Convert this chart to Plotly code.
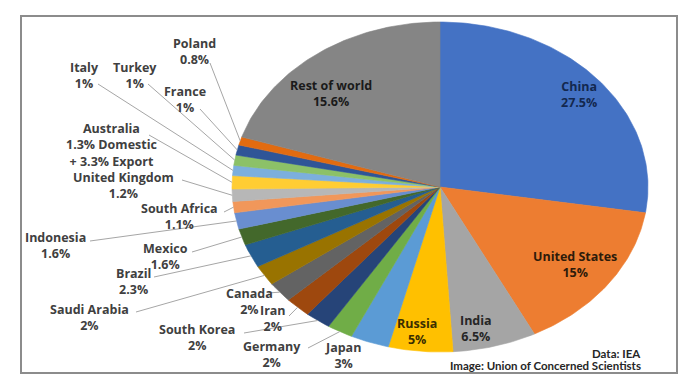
import numpy as np
import plotly.graph_objects as go

# ---- data ----
countries = ["China", "United States", "India", "Russia", "Japan", "Germany",
             "South Korea", "Iran", "Canada", "Saudi Arabia", "Brazil", "Mexico",
             "Indonesia", "South Africa", "United Kingdom", "Australia", "Italy",
             "Turkey", "France", "Poland", "Rest of world"]
# drawn share of each slice (percent of the whole pie)
shares = [27.5, 15, 6.5, 5, 3, 2, 2, 2, 2, 2, 2.3, 1.6, 1.6, 1.1, 1.2, 1.3,
          1, 1, 1, 0.8, 20.1]
share_labels = ["27.5%", "15%", "6.5%", "5%", "3%", "2%", "2%", "2%", "2%", "2%",
                "2.3%", "1.6%", "1.6%", "1.1%", "1.2%",
                "1.3% Domestic<br>+ 3.3% Export", "1%", "1%", "1%", "0.8%", "15.6%"]
colors = ["#4472C4", "#ED7D31", "#A5A5A5", "#FFC000", "#5B9BD5", "#70AD47",
          "#264478", "#9E480E", "#636363", "#997300", "#255E91", "#43682B",
          "#698ED0", "#F1975A", "#B7B7B7", "#FFCD33", "#7CAFDD", "#8CC168",
          "#2F5597", "#E26B10", "#858585"]

# ---- layout geometry (pixels) ----
W, H = 700, 390
XC, YC, RX, RY = 440, 187, 208, 165


def px(x):
    return (x - XC) / RX


def py(y):
    return (YC - y) / RY


# label centres (pixels), text colour, leader start (pixels) or None
label_pos = {
    "China": ((579, 94), "#13284F", None),
    "United States": ((575, 264), "#2E1B0A", None),
    "India": ((476, 328), "#262626", None),
    "Russia": ((417, 331), "#3A2E00", None),
    "Japan": ((343, 355), "#404040", None),
    "Germany": ((272, 354), "#404040", (308, 348)),
    "South Korea": ((197, 337), "#404040", (244, 333)),
    "Iran": ((273, 318), "#404040", (289, 316)),
    "Canada": ((249, 301), "#404040", (268, 293)),
    "Saudi Arabia": ((89, 317), "#404040", (136, 312)),
    "Brazil": ((133, 281), "#404040", (154, 277)),
    "Mexico": ((165, 256), "#404040", (192, 252)),
    "Indonesia": ((55, 245), "#404040", (90, 241)),
    "South Africa": ((179, 216), "#404040", (224, 212)),
    "United Kingdom": ((123, 185), "#404040", (182, 180)),
    "Australia": ((111, 145), "#404040", (149, 135)),
    "Italy": ((84, 75), "#404040", (98, 84)),
    "Turkey": ((135, 75), "#404040", (148, 84)),
    "France": ((185, 99), "#404040", (200, 109)),
    "Poland": ((194, 51), "#404040", (210, 63)),
    "Rest of world": ((331, 93), "#1A1A1A", None),
}

fig = go.Figure()

fractions = np.array(shares, dtype=float) / np.sum(shares)
ends = np.cumsum(fractions)
starts = ends - fractions

FONT = "Open Sans"
FS = 12.5
annotations = []
lead_x, lead_y = [], []
for name, f0, f1, col, lab in zip(countries, starts, ends, colors, share_labels):
    t = np.linspace(f0, f1, max(8, int((f1 - f0) * 400))) * 2 * np.pi
    xs = np.concatenate([[0], np.sin(t), [0]])
    ys = np.concatenate([[0], np.cos(t), [0]])
    fig.add_trace(go.Scatter(x=xs, y=ys, mode="lines", fill="toself",
                             fillcolor=col, line=dict(color=col, width=0.6),
                             hoverinfo="text", text=name, showlegend=False))
    (lx, ly), tcol, lead = label_pos[name]
    annotations.append(dict(x=px(lx), y=py(ly), xref="x", yref="y",
                            text=f"<b>{name}<br>{lab}</b>", showarrow=False,
                            font=dict(family=FONT, size=FS, color=tcol),
                            align="center", xanchor="center", yanchor="middle"))
    if lead is not None:
        mid = (f0 + f1) / 2 * 2 * np.pi
        lead_x += [px(lead[0]), np.sin(mid) * 1.0, None]
        lead_y += [py(lead[1]), np.cos(mid) * 1.0, None]

fig.add_trace(go.Scatter(x=lead_x, y=lead_y, mode="lines",
                         line=dict(color="#A6A6A6", width=1),
                         hoverinfo="skip", showlegend=False))

annotations.append(dict(x=643 / W, y=1 - 353 / H, xref="paper", yref="paper",
                        text="<b>Data: IEA</b>", showarrow=False,
                        font=dict(family="Lato", size=11.5, color="#262626"),
                        xanchor="right", yanchor="middle"))
annotations.append(dict(x=643 / W, y=1 - 365 / H, xref="paper", yref="paper",
                        text="<b>Image: Union of Concerned Scientists</b>",
                        showarrow=False,
                        font=dict(family="Lato", size=11.5, color="#262626"),
                        xanchor="right", yanchor="middle"))

fig.update_layout(
    width=W, height=H,
    margin=dict(l=0, r=0, t=0, b=0),
    paper_bgcolor="white", plot_bgcolor="white",
    xaxis=dict(range=[px(0), px(W)], visible=False, fixedrange=True),
    yaxis=dict(range=[py(H), py(0)], visible=False, fixedrange=True),
    annotations=annotations,
    shapes=[dict(type="rect", xref="paper", yref="paper",
                 x0=21 / W, x1=677 / W, y0=1 - 373 / H, y1=1 - 16 / H,
                 line=dict(color="#8C8C8C", width=2), fillcolor="rgba(0,0,0,0)",
                 layer="below")],
)

fig.write_html("out.html")
